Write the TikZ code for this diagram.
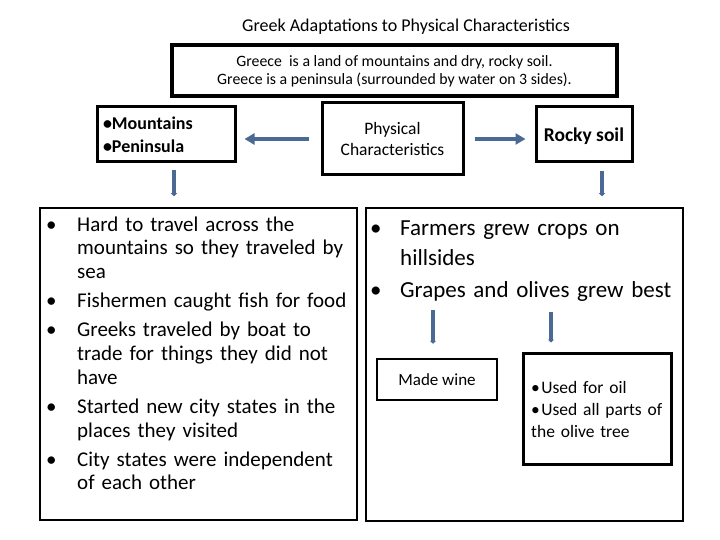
\documentclass[tikz,border=0pt]{standalone}
\usepackage{fontspec}
\setmainfont{Carlito}
\usetikzlibrary{arrows.meta}
\usetikzlibrary{positioning}
\tikzset{box/.style = {draw, line width=3pt, inner sep=0pt},
         harrow/.style = {mblue, line width=4pt, -{Triangle[length=10pt, width=11pt]}},
         varrow/.style = {mblue, line width=4pt, -{Triangle[length=3pt, width=6pt]}}}
\definecolor{mblue}{RGB}{74, 106, 148}
\newcommand{\bitem}[2]{\hangindent=#1\hangafter=1\noindent\makebox[#1][l]{\textbullet}#2\par}

\begin{document}
\begin{tikzpicture}[x=1pt, y=-1pt]
    \useasboundingbox (0, 0) rectangle (720, 540);

    \node [font=\fontsize{18}{20}\selectfont] (title) at (406, 27) {Greek Adaptations to Physical Characteristics};
    \node [box, line width=4pt, minimum width=445pt, minimum height=51pt, align=center,
           font=\fontsize{15.8}{18}\selectfont] (facts) at (394.5, 71)
          {Greece\ \ is a land of mountains and dry, rocky soil.\\Greece is a peninsula (surrounded by water on 3 sides).};

    % the three boxes of the second row
    \node [box, minimum height=55pt, inner xsep=6pt, text width=126pt, align=left,
           font=\bfseries\fontsize{18}{23}\selectfont] (mount) at (166, 134.5)
          {\textbullet Mountains\\\textbullet Peninsula};
    \node [box, minimum width=141pt, minimum height=72pt, align=center,
           font=\fontsize{17.5}{21.5}\selectfont] (phys) at (392.5, 139) {Physical\\Characteristics};
    \node [box, minimum width=96pt, minimum height=55pt, text depth=0pt,
           font=\bfseries\fontsize{19.5}{22}\selectfont] (rocky) at (584, 134.5) {Rocky soil};

    \draw [harrow, shorten <=12pt, shorten >=8pt] (phys.west) -- (phys.west -| mount.east);
    \draw [harrow, shorten <=10pt, shorten >=9pt] (phys.east) -- (phys.east -| rocky.west);

    % big boxes
    \node [draw, line width=1.5pt, minimum width=317pt, minimum height=312pt, inner sep=0pt] (sea) at (198.5, 364) {};
    \node [draw, line width=1.5pt, minimum width=317pt, minimum height=313pt, inner sep=0pt] (farm) at (524.5, 364.5) {};

    \node [anchor=base west, inner sep=0pt, text width=305pt, font=\fontsize{21}{23.7}\selectfont] (seatext) at (46, 231)
          {\raggedright\setlength{\parskip}{5.5pt}%
           \bitem{31pt}{Hard to travel across the\newline mountains so they traveled by\newline sea}
           \bitem{31pt}{Fishermen caught fish for food}
           \bitem{31pt}{Greeks traveled by boat to\newline trade for things they did not\newline have}
           \bitem{31pt}{Started new city states in the\newline places they visited}
           \bitem{31pt}{City states were independent\newline of each other}};
    \node [anchor=base west, inner sep=0pt, text width=312pt, font=\fontsize{23}{29}\selectfont] (farmtext) at (370, 236)
          {\raggedright\setlength{\parskip}{4pt}%
           \bitem{30pt}{Farmers grew crops on\newline hillsides}
           \bitem{30pt}{Grapes and olives grew best}};

    \coordinate (mdrop) at ([xshift=8pt]mount.south);
    \coordinate (rdrop) at ([xshift=18pt]rocky.south);
    \draw [varrow, shorten <=7pt, shorten >=11pt] (mdrop) -- (mdrop |- sea.north);
    \draw [varrow, shorten <=8pt, shorten >=11pt] (rdrop) -- (rdrop |- farm.north);

    % what grew best
    \node [box, line width=2.5pt, minimum width=120pt, minimum height=41pt,
           font=\fontsize{17}{20}\selectfont] (wine) at (437, 379.5) {Made wine};
    \node [box, minimum width=148pt, minimum height=111pt] (olive) at (597, 408.5) {};
    \node [anchor=base west, inner sep=0pt, text width=140pt, font=\fontsize{17.5}{22}\selectfont] (olivetext) at (531, 393)
          {\raggedright\textbullet\hspace{1.5pt}Used for oil\newline\textbullet\hspace{1.5pt}Used all parts of\newline the olive tree};

    \coordinate (grapes) at (433, 310);
    \coordinate (olives) at (551, 312);
    \draw [varrow, shorten >=14pt] (grapes) -- (grapes |- wine.north);
    \draw [varrow, shorten >=9pt] (olives) -- (olives |- olive.north);
\end{tikzpicture}
\end{document}
